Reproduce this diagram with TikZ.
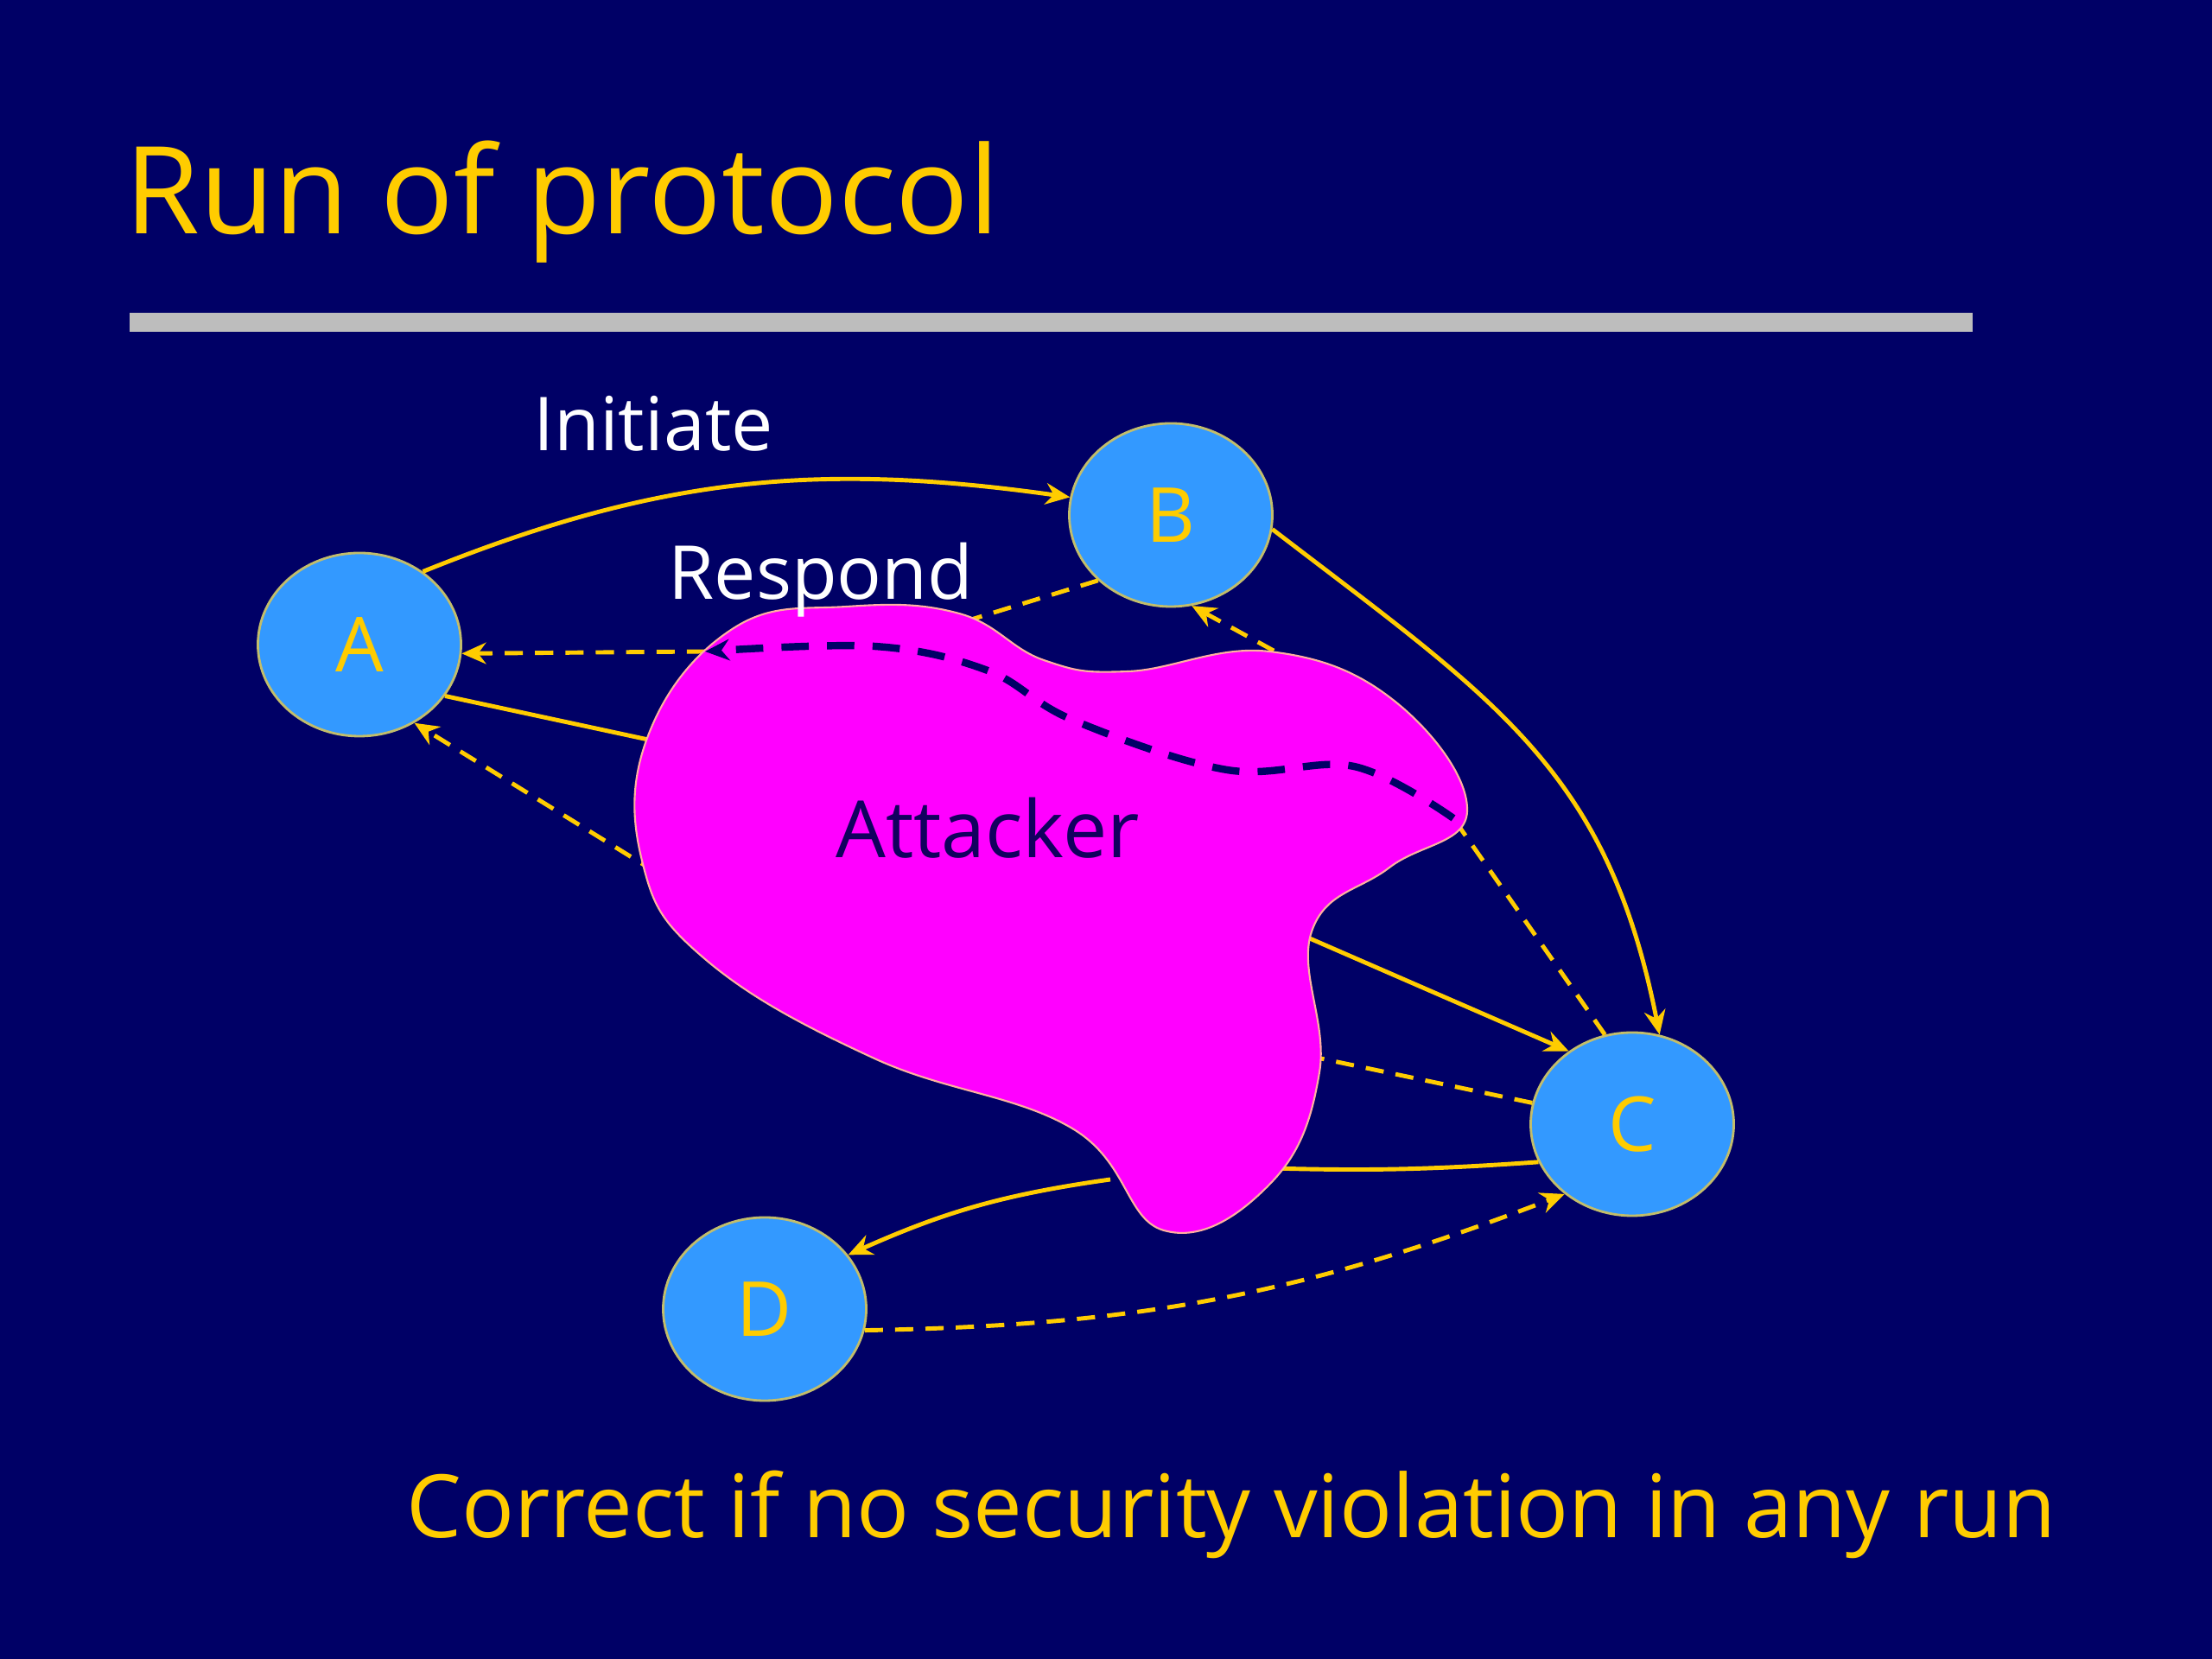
\documentclass[tikz,border=0pt]{standalone}
\usepackage{fontspec}
\setmainfont{Open Sans}
\usetikzlibrary{shapes.geometric,arrows.meta,positioning,calc}

\definecolor{slideNavy}{HTML}{000066}
\definecolor{slideYellow}{HTML}{FFCC00}
\definecolor{partyBlue}{HTML}{3399FF}
\definecolor{attackMagenta}{HTML}{FF00FF}
\definecolor{attackInk}{HTML}{12005E}
\definecolor{attackEdge}{HTML}{FFB0A0}
\definecolor{ruleGray}{HTML}{BDBDBD}

\begin{document}
\begin{tikzpicture}[
    >={Stealth[length=8pt,width=7pt]},
    party/.style={
        ellipse,
        draw=yellow!45!gray,
        fill=partyBlue,
        line width=0.8pt,
        minimum width=2.35cm,
        minimum height=2.12cm,
        inner sep=0pt,
        text=slideYellow,
        font=\fontsize{25pt}{30pt}\selectfont
    },
    msgLine/.style={
        draw=slideYellow,
        line width=1.4pt
    },
    msgDashed/.style={
        msgLine,
        dash pattern=on 6pt off 4pt
    },
    attackPath/.style={
        draw=slideNavy,
        line width=2.4pt,
        dash pattern=on 9pt off 6pt
    },
    stepLabel/.style={
        anchor=base,
        text=white,
        font=\fontsize{24.5pt}{28pt}\selectfont
    }
]

% ==================== SLIDE BACKGROUND & TITLE ====================
\fill[slideNavy] (0,0) rectangle (25.6,19.2);
\node[anchor=base west, inner sep=0pt, text=slideYellow, font=\fontsize{40pt}{46pt}\selectfont] (slideTitle) at (1.44,16.49) {Run of protocol};
\fill[ruleGray] (1.50,15.36) rectangle (22.83,15.58);

% ==================== PARTIES ====================
\node[party] (partyA) at (4.16,11.74) {A};
\node[party] (partyB) at (13.55,13.24) {B};
\node[party] (partyC) at (18.89,6.19) {C};
\node[party] (partyD) at (8.85,4.05) {D};

% points on the attacker cloud
\coordinate (atkInA) at (7.78,10.58);
\coordinate (atkOutA) at (7.60,9.10);
\coordinate (atkLeft) at (8.16,11.66);
\coordinate (atkTop) at (10.98,11.95);
\coordinate (atkOutB) at (15.05,11.50);
\coordinate (atkRight) at (16.82,9.73);
\coordinate (atkOutC) at (14.95,8.43);
\coordinate (atkInC) at (15.00,7.01);
\coordinate (atkInC2) at (14.40,5.69);
\coordinate (atkOutD) at (12.85,5.55);

% ==================== MESSAGES ====================
\draw[msgLine,->] (partyA.49) to[out=22,in=172] (partyB.170);
\draw[msgDashed] (partyB.222) -- (atkTop);
\draw[msgDashed,->] (atkLeft) -- (partyA.-5);
\draw[msgDashed,->] (atkOutA) -- (partyA.-55);
\draw[msgLine] (partyA.-31) -- (atkInA);
\draw[msgDashed,->] (atkOutB) -- (partyB.-77);
\draw[msgLine,->] (partyB.-8) .. controls (17.3,11.1) and (18.6,10.3) .. (partyC.73);
\draw[msgDashed] (partyC.107) -- (atkRight);
\draw[msgLine,->] (atkOutC) -- (partyC.131);
\draw[msgDashed] (partyC.168) -- (atkInC);
\draw[msgLine] (partyC.202) to[bend left=3] (atkInC2);
\draw[msgLine,->] (atkOutD) to[bend right=8] (partyD.33);
\draw[msgDashed,->] (partyD.-12) to[bend right=10] (partyC.226);

% ==================== ATTACKER ====================
\filldraw[fill=attackMagenta, draw=attackEdge, line width=0.6pt]
    plot[smooth cycle, tension=0.7] coordinates {
        (8.49,11.93) (9.80,12.18) (11.10,12.10) (12.08,11.56) (13.06,11.43)
        (14.69,11.66) (16.16,11.07) (16.98,9.81) (16.08,9.16) (15.18,8.42)
        (15.27,6.79) (14.69,5.49) (13.47,4.96) (12.41,6.14) (10.12,6.95)
        (8.16,8.10) (7.43,9.24) (7.51,10.71)};
\draw[attackPath,->] plot[smooth, tension=0.6] coordinates {
    (atkRight) (15.67,10.33) (14.20,10.29) (12.41,10.87) (11.43,11.44)
    (10.12,11.72) (atkLeft)};
\node[anchor=base, text=attackInk, font=\fontsize{26pt}{30pt}\selectfont] (atkLabel) at (11.43,9.27) {Attacker};

% ==================== LABELS ====================
\node[stepLabel] (lblInitiate) at (7.56,13.98) {Initiate};
\node[stepLabel] (lblRespond) at (9.50,12.26) {Respond};
\node[anchor=base, text=slideYellow, font=\fontsize{28.8pt}{34pt}\selectfont] (lblCorrect) at (14.25,1.40) {Correct if no security violation in any run};

\end{tikzpicture}
\end{document}
